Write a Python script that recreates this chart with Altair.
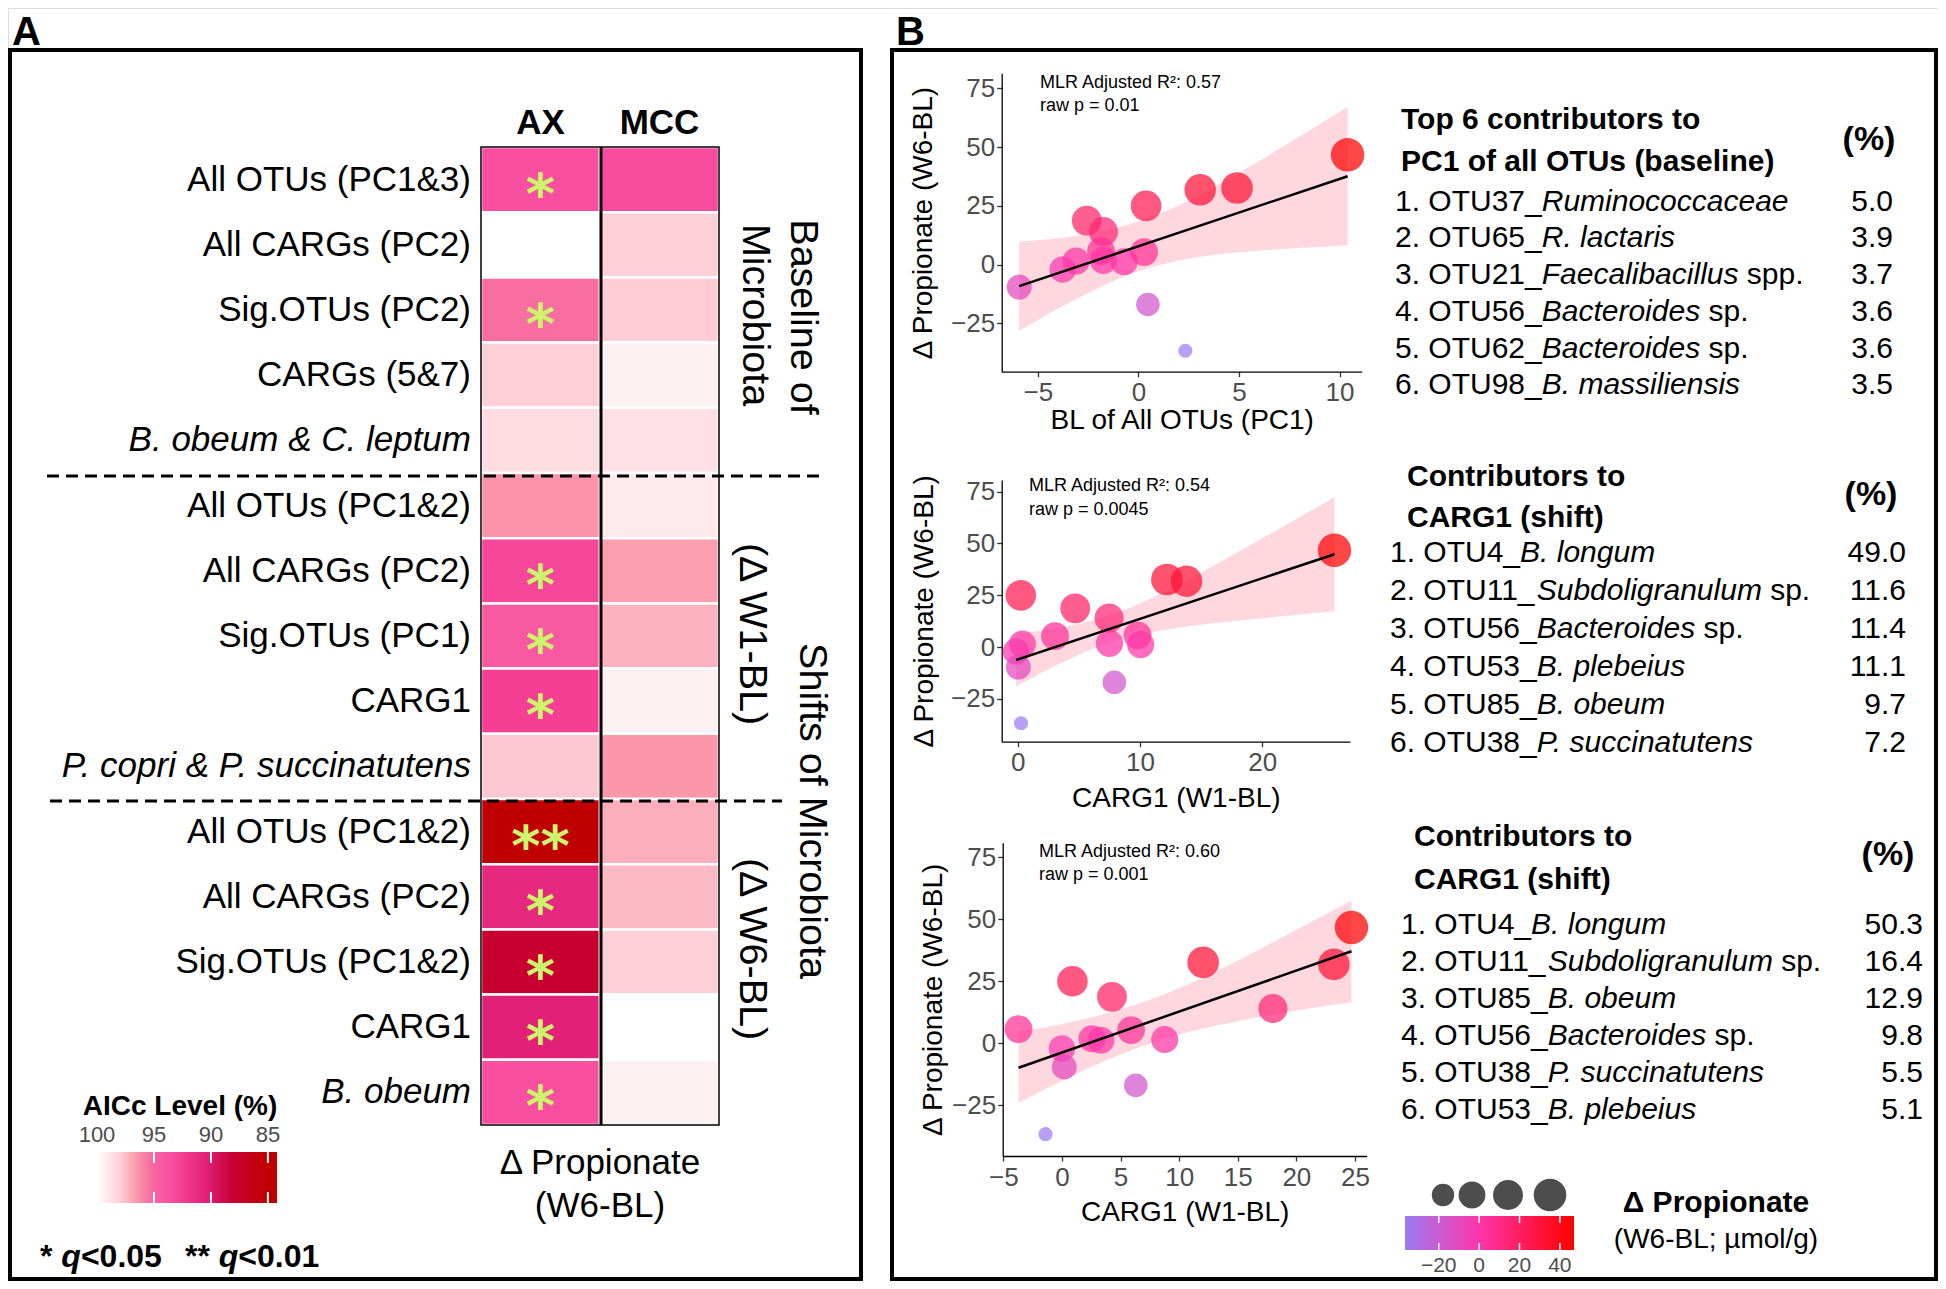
import altair as alt
import pandas as pd

FONT = "Liberation Sans"
W, H = 1930, 1273
SY = 1.0


def px(v):
    return round(v - 8, 2)


def py(v):
    return round((v - 8) * SY, 2)


# ---------------- Arial-compatible metrics (for placing mixed-style text) ----------------
AR = {" ": 278, ".": 278, "_": 556, "*": 389, "<": 584, "&": 667,
      "O": 778, "T": 611, "U": 722, "B": 667, "F": 611, "P": 667, "R": 722, "S": 667,
      "a": 556, "b": 556, "c": 500, "d": 556, "e": 556, "f": 278, "g": 556, "h": 556,
      "i": 222, "j": 222, "k": 500, "l": 222, "m": 833, "n": 556, "o": 556, "p": 556,
      "q": 556, "r": 333, "s": 500, "t": 278, "u": 556, "v": 500, "w": 722, "x": 500,
      "y": 500, "z": 500}
ARB = {" ": 278, "*": 389, "q": 611, "<": 584, ".": 278}
for _d in "0123456789":
    AR[_d] = 556
    ARB[_d] = 556


def tw(s, size, table=AR):
    return sum(table.get(ch, 556) for ch in s) * size / 1000.0


# ---------------- Panel A data ----------------
row_labels = ["All OTUs (PC1&3)", "All CARGs (PC2)", "Sig.OTUs (PC2)", "CARGs (5&7)",
              "B. obeum & C. leptum",
              "All OTUs (PC1&2)", "All CARGs (PC2)", "Sig.OTUs (PC1)", "CARG1",
              "P. copri & P. succinatutens",
              "All OTUs (PC1&2)", "All CARGs (PC2)", "Sig.OTUs (PC1&2)", "CARG1", "B. obeum"]
italic_rows = [4, 9, 14]
columns = ["AX", "MCC"]
aicc_ax = [93.5, 100, 95.3, 98.0, 98.5, 96.4, 93.0, 94.2, 92.5, 97.8, 85.0, 91.0, 88.0, 90.5, 93.5]
aicc_mcc = [93.3, 98.0, 97.9, 99.4, 98.7, 99.1, 96.7, 97.2, 99.4, 96.5, 97.1, 97.4, 98.0, 100, 99.4]
signif_ax = ["*", "", "*", "", "", "", "*", "*", "*", "", "**", "*", "*", "*", "*"]
aicc_legend_values = [100, 95, 90, 85]
aicc_tick_values = [95, 90, 85]
group_labels = ["Baseline of", "Microbiota", "Shifts of Microbiota", "(Δ W1-BL)", "(Δ W6-BL)"]

# ---------------- Panel B data ----------------
p1_x = [-5.93, -3.77, -3.1, -2.57, -1.74, -1.86, -1.74, -0.71, 0.28, 0.38, 0.47, 2.33, 3.07, 4.9, 10.4]
p1_y = [-9.6, -2.1, 1.5, 18.7, 14.0, 5.7, 1.8, 1.2, 5.3, 25.0, -17.0, -36.7, 31.8, 32.6, 46.7]
p1_line_x = [-5.93, 10.4]
p1_line_y = [-9.2, 37.6]
p1_band_x = [-5.93, -3.0, 0.0, 2.5, 5.0, 7.5, 10.4]
p1_band_lo = [-28.2, -14.2, -2.8, 2.5, 5.2, 6.8, 8.1]
p1_band_hi = [9.8, 12.4, 18.3, 27.3, 39.0, 51.8, 67.1]

p2_x = [0.25, 0.38, -0.14, 0.05, 0.27, 3.05, 4.7, 7.47, 7.5, 7.9, 9.8, 10.05, 12.2, 13.8, 25.9]
p2_y = [25.0, 1.5, -2.1, -9.6, -36.7, 5.3, 18.7, 14.0, 1.8, -17.0, 5.7, 1.2, 32.6, 31.8, 46.7]
p2_line_x = [-0.14, 25.9]
p2_line_y = [-6.2, 44.8]
p2_band_x = [-0.14, 4.0, 7.5, 12.0, 16.0, 20.0, 25.9]
p2_band_lo = [-18.9, -6.4, 2.2, 8.3, 11.5, 13.9, 17.3]
p2_band_hi = [6.7, 10.0, 15.2, 26.7, 39.3, 52.5, 72.3]

p3_x = [-3.7, -1.4, 0.0, 0.2, 0.9, 2.56, 3.33, 4.27, 5.9, 6.3, 8.77, 12.05, 18.0, 23.2, 24.7]
p3_y = [5.7, -36.7, -2.1, -9.6, 25.0, 1.8, 1.2, 18.7, 5.3, -17.0, 1.5, 32.6, 14.0, 31.8, 46.7]
p3_line_x = [-3.7, 24.7]
p3_line_y = [-9.9, 37.1]
p3_band_x = [-3.7, 0.0, 3.5, 7.0, 11.0, 15.0, 20.0, 24.7]
p3_band_lo = [-24.0, -15.2, -7.5, -1.0, 4.7, 8.9, 13.2, 16.5]
p3_band_hi = [4.6, 7.8, 11.6, 16.7, 24.3, 33.3, 45.8, 57.6]

prop_legend_values = [-20, 0, 20, 40]

t1_title = ["Top 6 contributors to", "PC1 of all OTUs (baseline)"]
t1_prefix = ["1. OTU37_", "2. OTU65_", "3. OTU21_", "4. OTU56_", "5. OTU62_", "6. OTU98_"]
t1_taxon = ["Ruminococcaceae", "R. lactaris", "Faecalibacillus", "Bacteroides", "Bacteroides", "B. massiliensis"]
t1_suffix = ["", "", "spp.", "sp.", "sp.", ""]
t1_pct = [5.0, 3.9, 3.7, 3.6, 3.6, 3.5]

t2_title = ["Contributors to", "CARG1 (shift)"]
t2_prefix = ["1. OTU4_", "2. OTU11_", "3. OTU56_", "4. OTU53_", "5. OTU85_", "6. OTU38_"]
t2_taxon = ["B. longum", "Subdoligranulum", "Bacteroides", "B. plebeius", "B. obeum", "P. succinatutens"]
t2_suffix = ["", "sp.", "sp.", "", "", ""]
t2_pct = [49.0, 11.6, 11.4, 11.1, 9.7, 7.2]

t3_title = ["Contributors to", "CARG1 (shift)"]
t3_prefix = ["1. OTU4_", "2. OTU11_", "3. OTU85_", "4. OTU56_", "5. OTU38_", "6. OTU53_"]
t3_taxon = ["B. longum", "Subdoligranulum", "B. obeum", "Bacteroides", "P. succinatutens", "B. plebeius"]
t3_suffix = ["", "sp.", "", "sp.", "", ""]
t3_pct = [50.3, 16.4, 12.9, 9.8, 5.5, 5.1]

# ---------------- styles ----------------
aicc_dom = [100, 98, 96.5, 95, 93.5, 92.5, 90.5, 88, 85, 84.2]
aicc_rng = ["#ffffff", "#fdd0d8", "#fb97ab", "#f8649f", "#f94fa0", "#f43f95",
            "#e22078", "#c70030", "#c00000", "#c00000"]
prop_dom = [-36.7, 0, 47]
prop_rng = ["#9b7bf3", "#ff35aa", "#ff0000"]
size_dom = [-36.7, -17, 5, 25, 47]
size_rng = [200, 555, 770, 940, 1120]
size_key_pos = [(1443, 1195), (1472, 1195), (1508, 1195), (1550, 1195)]
STAR = "#ccf56c"
ONE = pd.DataFrame({"k": [0]})


def text_layer(items, fmt=None, **props):
    df = pd.DataFrame({"t": [i[0] for i in items],
                       "x": [px(i[1]) for i in items],
                       "y": [py(i[2]) for i in items]})
    base = dict(font=FONT, baseline="middle", color="black")
    base.update(props)
    txt = alt.Text("t:Q", format=fmt) if fmt else alt.Text("t:N")
    return alt.Chart(df).mark_text(**base).encode(
        x=alt.X("x:Q", scale=None, axis=None),
        y=alt.Y("y:Q", scale=None, axis=None),
        text=txt)


def frame(x0, x1, y0, y1, width, color="black"):
    return alt.Chart(ONE).mark_rect(fillOpacity=0, stroke=color, strokeWidth=width).encode(
        x=alt.value(px(x0)), x2=alt.value(px(x1)), y=alt.value(py(y0)), y2=alt.value(py(y1)))


# ---------------- Panel A ----------------
heat_df = pd.DataFrame({"row": list(range(15)) * 2,
                        "col": ["AX"] * 15 + ["MCC"] * 15,
                        "aicc": aicc_ax + aicc_mcc,
                        "sig": signif_ax + [""] * 15})
lab_df = pd.DataFrame({"row": list(range(15)), "label": row_labels,
                       "it": [i in italic_rows for i in range(15)]})

xh = alt.X("col:N", scale=alt.Scale(domain=columns, range=[px(481), px(719)],
                                    paddingInner=0, paddingOuter=0), axis=None)
yh = alt.Y("row:O", scale=alt.Scale(domain=list(range(15)), range=[py(147), py(1125)],
                                    paddingInner=0, paddingOuter=0), axis=None)

cells = alt.Chart(heat_df).mark_rect(stroke="white", strokeWidth=2.5).encode(
    x=xh, y=yh,
    color=alt.Color("aicc:Q", scale=alt.Scale(domain=aicc_dom, range=aicc_rng, interpolate="rgb"),
                    legend=None))
stars = alt.Chart(heat_df).transform_filter("datum.sig != ''").mark_text(
    font="DejaVu Sans", fontSize=56, fontWeight="bold", color=STAR, baseline="middle", dy=16).encode(
    x=xh, y=yh, text="sig:N")
labels_n = alt.Chart(lab_df).transform_filter("!datum.it").mark_text(
    font=FONT, fontSize=35, align="right", baseline="middle", color="black").encode(
    x=alt.value(px(471)), y=yh, text="label:N")
labels_i = alt.Chart(lab_df).transform_filter("datum.it").mark_text(
    font=FONT, fontSize=35, fontStyle="italic", align="right", baseline="middle", color="black").encode(
    x=alt.value(px(471)), y=yh, text="label:N")
headers = alt.Chart(pd.DataFrame({"col": columns})).mark_text(
    font=FONT, fontSize=35, fontWeight="bold", baseline="middle", color="black").encode(
    x=xh, y=alt.value(py(122.5)), text="col:N")
panelA_heat = alt.layer(cells, stars, labels_n, labels_i, headers)

heat_border = frame(481, 719, 147, 1125, 1.5)
heat_divider = alt.Chart(ONE).mark_rule(color="black", strokeWidth=3).encode(
    x=alt.value(px(601)), y=alt.value(py(147)), y2=alt.value(py(1125)))
dash1 = alt.Chart(ONE).mark_rule(color="black", strokeWidth=3, strokeDash=[12, 7]).encode(
    x=alt.value(px(47)), x2=alt.value(px(819)), y=alt.value(py(476)))
dash2 = alt.Chart(ONE).mark_rule(color="black", strokeWidth=3, strokeDash=[12, 7]).encode(
    x=alt.value(px(50)), x2=alt.value(px(782)), y=alt.value(py(801)))

group_pos = [(805, 317), (757, 315), (814, 811), (754, 634), (754, 949)]
groups = text_layer([(t, x - 2, y) for t, (x, y) in zip(group_labels, group_pos)],
                    fontSize=39.5, angle=90, align="center")
under_title = text_layer([("Δ Propionate", 600, 1163), ("(W6-BL)", 600, 1206)],
                         fontSize=35, align="center")

# AICc legend (gradient bar, ticks, labels)
aicc_stops = [{"offset": round((100 - d) / (100 - 84.2), 4), "color": c}
              for d, c in zip(aicc_dom, aicc_rng)]
aicc_bar = alt.Chart(ONE).mark_rect(
    fill={"gradient": "linear", "x1": 0, "y1": 0, "x2": 1, "y2": 0, "stops": aicc_stops}).encode(
    x=alt.value(px(97)), x2=alt.value(px(277)), y=alt.value(py(1152)), y2=alt.value(py(1203)))
aicc_x = alt.X("v:Q", scale=alt.Scale(domain=[100, 84.2], range=[px(97), px(277)], zero=False, nice=False),
               axis=None)
aicc_tick_df = pd.DataFrame({"v": aicc_tick_values})
aicc_ticks_top = alt.Chart(aicc_tick_df).mark_rule(color="white", strokeWidth=2).encode(
    x=aicc_x, y=alt.value(py(1152)), y2=alt.value(py(1163)))
aicc_ticks_bot = alt.Chart(aicc_tick_df).mark_rule(color="white", strokeWidth=2).encode(
    x=aicc_x, y=alt.value(py(1192)), y2=alt.value(py(1203)))
aicc_labels = alt.Chart(pd.DataFrame({"v": aicc_legend_values})).mark_text(
    font=FONT, fontSize=22, color="#4d4d4d", baseline="middle").encode(
    x=aicc_x, y=alt.value(py(1135)), text=alt.Text("v:Q", format="d"))
aicc_legend = alt.layer(aicc_bar, aicc_ticks_top, aicc_ticks_bot, aicc_labels)
aicc_title = text_layer([("AICc Level (%)", 180, 1107)], fontSize=28, fontWeight="bold", align="center")

# significance key
QS = 32
qx0 = 40
qx1 = qx0 + tw("* ", QS, ARB)
qx2 = qx1 + tw("q", QS, ARB)
qx3 = 185
qx4 = qx3 + tw("** ", QS, ARB)
qx5 = qx4 + tw("q", QS, ARB)
q_norm = text_layer([("*", qx0, 1257), ("<0.05", qx2, 1257), ("**", qx3, 1257), ("<0.01", qx5, 1257)],
                    fontSize=QS, fontWeight="bold", align="left")
q_ital = text_layer([("q", qx1, 1257), ("q", qx4, 1257)],
                    fontSize=QS, fontWeight="bold", fontStyle="italic", align="left")

panel_letters = text_layer([("A", 12, 44.5), ("B", 896, 44.5)], fontSize=40, fontWeight="bold",
                           align="left", baseline="alphabetic")


# ---------------- Panel B scatter plots ----------------
TICK_FS = 26
SIZE_SCALE = alt.Scale(domain=size_dom, range=size_rng)


def scatter(xv, yv, lx, ly, bx, blo, bhi, xdom, ydom, xpix, ypix, xticks, xtitle, xtp, ytp, with_key):
    X = alt.X("x:Q",
              scale=alt.Scale(domain=xdom, range=[px(xpix[0]), px(xpix[1])], nice=False, zero=False),
              axis=alt.Axis(orient="bottom", offset=round(py(ypix[0]) - H, 2), values=xticks, title=xtitle,
                            grid=False, tickSize=5, tickWidth=1.3, tickColor="#333333",
                            domainColor="black", domainWidth=1.3, labelFontSize=TICK_FS, labelColor="#4d4d4d",
                            labelFont=FONT, labelPadding=3, labelFlush=False, titleFont=FONT,
                            titleFontSize=28, titleFontWeight="normal", titleColor="black",
                            titlePadding=xtp, minExtent=34, maxExtent=34))
    Y = alt.Y("y:Q",
              scale=alt.Scale(domain=ydom, range=[py(ypix[0]), py(ypix[1])], nice=False, zero=False),
              axis=alt.Axis(orient="left", offset=round(-px(xpix[0]), 2), values=[-25, 0, 25, 50, 75],
                            title="Δ Propionate (W6-BL)", grid=False, tickSize=5, tickWidth=1.3,
                            tickColor="#333333", domainColor="black", domainWidth=1.3, labelFontSize=TICK_FS,
                            labelColor="#4d4d4d", labelFont=FONT, labelPadding=2, titleFont=FONT,
                            titleFontSize=28, titleFontWeight="normal", titleColor="black",
                            titlePadding=ytp, minExtent=51, maxExtent=51))
    band = alt.Chart(pd.DataFrame({"x": bx, "y": blo, "y2": bhi})).mark_area(
        color="#ffc0cb", opacity=0.62, interpolate="monotone").encode(x=X, y=Y, y2="y2:Q")
    pts = alt.Chart(pd.DataFrame({"x": xv, "y": yv, "c": yv, "s": yv})).mark_circle(opacity=0.72).encode(
        x=X, y=Y,
        color=alt.Color("c:Q", scale=alt.Scale(domain=prop_dom, range=prop_rng, interpolate="rgb"),
                        legend=None),
        size=alt.Size("s:Q", scale=SIZE_SCALE, legend=None))
    line = alt.Chart(pd.DataFrame({"x": lx, "y": ly})).mark_line(color="black", strokeWidth=2.5).encode(
        x=X, y=Y)
    parts = [band, pts, line]
    if with_key:
        # size key: grey dots drawn through the same size scale as the data points
        for v, (kx, ky) in zip(prop_legend_values, size_key_pos):
            parts.append(
                alt.Chart(pd.DataFrame({"s": [v]})).mark_circle(color="#4d4d4d", opacity=1).encode(
                    x=alt.value(px(kx)), y=alt.value(py(ky)),
                    size=alt.Size("s:Q", scale=SIZE_SCALE, legend=None)))
    return alt.layer(*parts)


sc1 = scatter(p1_x, p1_y, p1_line_x, p1_line_y, p1_band_x, p1_band_lo, p1_band_hi,
              [-6.8, 11.1], [-45.6, 81.4], (1001.7, 1361.7), (371.7, 73.3), [-5, 0, 5, 10],
              "BL of All OTUs (PC1)", 1, 13, True)
sc2 = scatter(p2_x, p2_y, p2_line_x, p2_line_y, p2_band_x, p2_band_lo, p2_band_hi,
              [-1.31, 27.17], [-45.6, 80.6], (1001.7, 1350), (741.7, 480), [0, 10, 20],
              "CARG1 (W1-BL)", 9, 12, False)
sc3 = scatter(p3_x, p3_y, p3_line_x, p3_line_y, p3_band_x, p3_band_lo, p3_band_hi,
              [-5.05, 26.0], [-45.5, 80.9], (1002.7, 1366.7), (1156, 842.7), [-5, 0, 5, 10, 15, 20, 25],
              "CARG1 (W1-BL)", 8, 4, False)

ann = text_layer([("MLR Adjusted R²: 0.57", 1040, 82.7), ("raw p = 0.01", 1040, 105.7),
                  ("MLR Adjusted R²: 0.54", 1029, 486), ("raw p = 0.0045", 1029, 510),
                  ("MLR Adjusted R²: 0.60", 1039, 851.7), ("raw p = 0.001", 1039, 875)],
                 fontSize=18, align="left")

# propionate colour legend
prop_stops = [{"offset": round((d - prop_dom[0]) / (prop_dom[-1] - prop_dom[0]), 4), "color": c}
              for d, c in zip(prop_dom, prop_rng)]
prop_bar = alt.Chart(ONE).mark_rect(
    fill={"gradient": "linear", "x1": 0, "y1": 0, "x2": 1, "y2": 0, "stops": prop_stops}).encode(
    x=alt.value(px(1405)), x2=alt.value(px(1574)), y=alt.value(py(1216)), y2=alt.value(py(1250)))
prop_x = alt.X("v:Q", scale=alt.Scale(domain=[prop_dom[0], prop_dom[-1]], range=[px(1405), px(1574)],
                                      zero=False, nice=False), axis=None)
prop_tick_df = pd.DataFrame({"v": prop_legend_values})
prop_ticks_top = alt.Chart(prop_tick_df).mark_rule(color="white", strokeWidth=1.5).encode(
    x=prop_x, y=alt.value(py(1216)), y2=alt.value(py(1223)))
prop_ticks_bot = alt.Chart(prop_tick_df).mark_rule(color="white", strokeWidth=1.5).encode(
    x=prop_x, y=alt.value(py(1243)), y2=alt.value(py(1250)))
prop_labels = alt.Chart(prop_tick_df).mark_text(
    font=FONT, fontSize=21, color="#4d4d4d", baseline="middle").encode(
    x=prop_x, y=alt.value(py(1266)), text=alt.Text("v:Q"))
prop_legend = alt.layer(prop_bar, prop_ticks_top, prop_ticks_bot, prop_labels)
prop_title = text_layer([("Δ Propionate", 1716, 1203)], fontSize=30, fontWeight="bold", align="center")
prop_sub = text_layer([("(W6-BL; µmol/g)", 1716, 1240)], fontSize=28, align="center")


# ---------------- tables ----------------
def table(title, prefix, taxon, suffix, pct, title_x, title_ys, pct_pos, x0, y0, dy, val_right, size=30):
    norm, ital, vals = [], [], []
    for i in range(len(prefix)):
        y = y0 + dy * i
        norm.append((prefix[i], x0, y))
        xi = x0 + tw(prefix[i], size)
        ital.append((taxon[i], xi, y))
        if suffix[i]:
            norm.append((suffix[i], xi + tw(taxon[i], size) + tw(" ", size), y))
        vals.append((pct[i], val_right, y))
    return [
        text_layer([(t, title_x, yy) for t, yy in zip(title, title_ys)], fontSize=30, fontWeight="bold",
                   align="left"),
        text_layer([("(%)", pct_pos[0], pct_pos[1])], fontSize=34, fontWeight="bold", align="center"),
        text_layer(norm, fontSize=size, align="left"),
        text_layer(ital, fontSize=size, fontStyle="italic", align="left"),
        text_layer(vals, fmt=".1f", fontSize=size, align="right"),
    ]


tables = []
tables += table(t1_title, t1_prefix, t1_taxon, t1_suffix, t1_pct, 1401, [120, 161.7], (1869, 140),
                1395, 201.7, 36.7, 1893)
tables += table(t2_title, t2_prefix, t2_taxon, t2_suffix, t2_pct, 1407, [476.7, 518.3], (1871, 495),
                1390, 553, 38.0, 1906)
tables += table(t3_title, t3_prefix, t3_taxon, t3_suffix, t3_pct, 1414, [836.7, 880], (1888, 855),
                1401, 925, 37.0, 1923)

boxA = frame(10, 861, 50, 1279, 4)
boxB = frame(892, 1936, 50, 1279, 4)

chart = alt.layer(
    panelA_heat, heat_border, heat_divider, dash1, dash2, groups, under_title,
    aicc_legend, aicc_title, q_norm, q_ital, panel_letters,
    sc1, sc2, sc3, ann, prop_legend, prop_title, prop_sub,
    *tables, boxA, boxB
).resolve_scale(
    x="independent", y="independent", color="independent", size="independent"
).properties(
    width=W, height=H, padding=0, autosize=alt.AutoSizeParams(type="none")
).configure_view(strokeWidth=0).configure(font=FONT)

chart.save("out.html", embed_options={"renderer": "svg", "actions": False})
